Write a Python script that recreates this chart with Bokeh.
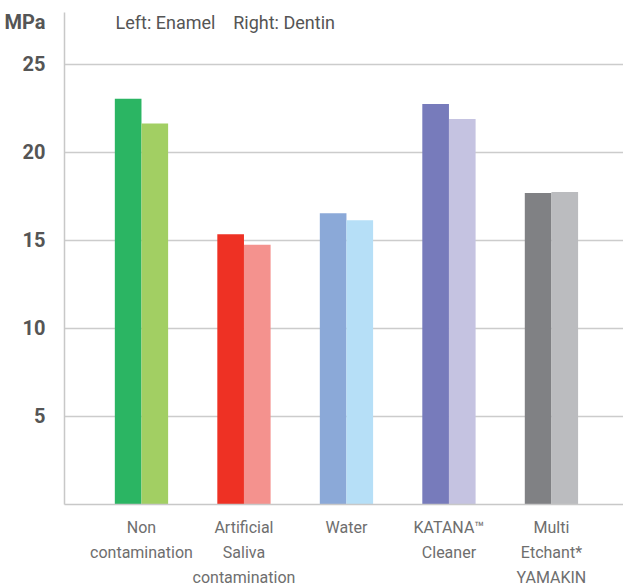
from bokeh.plotting import figure
from bokeh.models import ColumnDataSource, Range1d, FixedTicker, Label
from bokeh.embed import file_html
from bokeh.resources import INLINE

categories = ["Non\ncontamination", "Artificial\nSaliva\ncontamination", "Water",
              "KATANA\u2122\nCleaner", "Multi\nEtchant*\nYAMAKIN"]
enamel = [23.05, 15.35, 16.55, 22.75, 17.70]
dentin = [21.65, 14.75, 16.15, 21.90, 17.75]
enamel_colors = ["#2bb563", "#ee3124", "#8ba9d8", "#777bbb", "#808184"]
dentin_colors = ["#a2cf63", "#f4928e", "#b6dff7", "#c5c3e1", "#bbbcbf"]
y_ticks = [5, 10, 15, 20, 25]
unit_text = "MPa"
unit_pos = 27.39
legend_text = "Left: Enamel\u00a0\u00a0\u00a0\u00a0Right: Dentin"

FONT = "Roboto"
BW = 0.26
X0, X1 = -0.751, 4.703

idx = list(range(len(categories)))
src_e = ColumnDataSource(dict(x=[i - BW / 2 for i in idx], top=enamel, color=enamel_colors))
src_d = ColumnDataSource(dict(x=[i + BW / 2 for i in idx], top=dentin, color=dentin_colors))

p = figure(frame_width=559, frame_height=492, output_backend="svg", toolbar_location=None,
           x_range=Range1d(X0, X1), y_range=Range1d(0, 27.95),
           min_border_left=64, min_border_right=0, min_border_top=12, min_border_bottom=84)
p.outline_line_color = None
p.background_fill_color = "white"
p.border_fill_color = "white"

p.vbar(x="x", top="top", width=BW, color="color", source=src_e, line_color=None)
p.vbar(x="x", top="top", width=BW, color="color", source=src_d, line_color=None)

p.xgrid.visible = False
p.ygrid.ticker = FixedTicker(ticks=y_ticks)
p.ygrid.grid_line_color = "#cccccc"
p.ygrid.grid_line_width = 1.5

ya = p.yaxis[0]
ya.ticker = FixedTicker(ticks=y_ticks + [unit_pos])
ya.major_label_overrides = {unit_pos: unit_text}
ya.major_tick_line_color = None
ya.minor_tick_line_color = None
ya.axis_line_color = "#c8c8c8"
ya.axis_line_width = 1.5
ya.major_label_text_font = FONT
ya.major_label_text_font_style = "bold"
ya.major_label_text_font_size = "20px"
ya.major_label_text_color = "#555555"
ya.major_label_standoff = 13

xa = p.xaxis[0]
xa.ticker = FixedTicker(ticks=idx)
xa.major_label_overrides = {i: c for i, c in zip(idx, categories)}
xa.major_tick_line_color = None
xa.minor_tick_line_color = None
xa.axis_line_color = "#c8c8c8"
xa.axis_line_width = 1.5
xa.major_label_text_font = FONT
xa.major_label_text_font_size = "16px"
xa.major_label_text_color = "#6e6e6e"
xa.major_label_text_line_height = 1.34
xa.major_label_standoff = 7

p.add_layout(Label(x=51, y=482, x_units="screen", y_units="screen", text=legend_text,
                   text_font=FONT, text_font_size="18px",
                   text_color="#555555", text_baseline="middle"))

open("out.html", "w").write(file_html(p, INLINE))
